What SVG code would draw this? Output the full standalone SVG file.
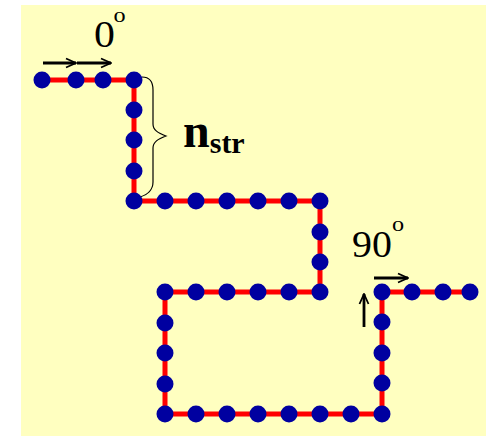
<svg xmlns="http://www.w3.org/2000/svg" width="486" height="436" viewBox="0 0 486 436">
<defs>
<style>
.bead{fill:#0000A0}
.chain{fill:none;stroke:#FF0000;stroke-width:5;stroke-linejoin:miter}
.arr{fill:none;stroke:#000;stroke-width:2.8}
.lbl{font-family:"Liberation Serif","Times New Roman",serif;fill:#000}
</style>
<marker id="ah" markerWidth="12" markerHeight="12" refX="11" refY="6" orient="auto" markerUnits="userSpaceOnUse">
<path d="M1,1.5 L11,6 L1,10.5" fill="none" stroke="#000" stroke-width="1.8"/>
</marker>
</defs>
<rect x="21" y="5" width="465" height="431" fill="#FFFFC0"/>
<g id="connectors">
<polyline class="chain" points="42,80 134,80 134,201 320,201 320,292 165,292 165,414 382,414 382,292 470,292"/>
<line class="arr" x1="43" y1="63" x2="76" y2="63" marker-end="url(#ah)"/>
<line class="arr" x1="77" y1="63" x2="111" y2="63" marker-end="url(#ah)"/>
<line class="arr" x1="374" y1="278" x2="408" y2="278" marker-end="url(#ah)"/>
<line class="arr" x1="364" y1="327" x2="364" y2="294" marker-end="url(#ah)"/>
<path d="M142,77 C150,77 153,82 153,90 L153,124 C153,130 158,133 166,136 C158,139 153,142 153,148 L153,182 C153,190 147,195 140,197" fill="none" stroke="#000" stroke-width="1.2"/>
</g>
<g id="b1"><circle class="bead" cx="42" cy="80" r="8.5"/></g>
<g id="b2"><circle class="bead" cx="76" cy="80" r="8.5"/></g>
<g id="b3"><circle class="bead" cx="103" cy="80" r="8.5"/></g>
<g id="b4"><circle class="bead" cx="134" cy="80" r="8.5"/></g>
<g id="b5"><circle class="bead" cx="134" cy="110" r="8.5"/></g>
<g id="b6"><circle class="bead" cx="134" cy="140" r="8.5"/></g>
<g id="b7"><circle class="bead" cx="134" cy="171" r="8.5"/></g>
<g id="b8"><circle class="bead" cx="134" cy="201" r="8.5"/></g>
<g id="b9"><circle class="bead" cx="165" cy="201" r="8.5"/></g>
<g id="b10"><circle class="bead" cx="196" cy="201" r="8.5"/></g>
<g id="b11"><circle class="bead" cx="227" cy="201" r="8.5"/></g>
<g id="b12"><circle class="bead" cx="258" cy="201" r="8.5"/></g>
<g id="b13"><circle class="bead" cx="289" cy="201" r="8.5"/></g>
<g id="b14"><circle class="bead" cx="320" cy="201" r="8.5"/></g>
<g id="b15"><circle class="bead" cx="320" cy="232" r="8.5"/></g>
<g id="b16"><circle class="bead" cx="320" cy="262" r="8.5"/></g>
<g id="b17"><circle class="bead" cx="320" cy="292" r="8.5"/></g>
<g id="b18"><circle class="bead" cx="289" cy="292" r="8.5"/></g>
<g id="b19"><circle class="bead" cx="258" cy="292" r="8.5"/></g>
<g id="b20"><circle class="bead" cx="227" cy="292" r="8.5"/></g>
<g id="b21"><circle class="bead" cx="196" cy="292" r="8.5"/></g>
<g id="b22"><circle class="bead" cx="165" cy="292" r="8.5"/></g>
<g id="b23"><circle class="bead" cx="165" cy="323" r="8.5"/></g>
<g id="b24"><circle class="bead" cx="165" cy="353" r="8.5"/></g>
<g id="b25"><circle class="bead" cx="165" cy="384" r="8.5"/></g>
<g id="b26"><circle class="bead" cx="165" cy="414" r="8.5"/></g>
<g id="b27"><circle class="bead" cx="196" cy="414" r="8.5"/></g>
<g id="b28"><circle class="bead" cx="227" cy="414" r="8.5"/></g>
<g id="b29"><circle class="bead" cx="258" cy="414" r="8.5"/></g>
<g id="b30"><circle class="bead" cx="289" cy="414" r="8.5"/></g>
<g id="b31"><circle class="bead" cx="320" cy="414" r="8.5"/></g>
<g id="b32"><circle class="bead" cx="351" cy="414" r="8.5"/></g>
<g id="b33"><circle class="bead" cx="382" cy="414" r="8.5"/></g>
<g id="b34"><circle class="bead" cx="382" cy="383" r="8.5"/></g>
<g id="b35"><circle class="bead" cx="382" cy="353" r="8.5"/></g>
<g id="b36"><circle class="bead" cx="382" cy="322" r="8.5"/></g>
<g id="b37"><circle class="bead" cx="382" cy="292" r="8.5"/></g>
<g id="b38"><circle class="bead" cx="412" cy="292" r="8.5"/></g>
<g id="b39"><circle class="bead" cx="443" cy="292" r="8.5"/></g>
<g id="b40"><circle class="bead" cx="470" cy="292" r="8.5"/></g>
<g id="label-0">
<text class="lbl" transform="translate(94,47) scale(1.1,1)" font-size="38">0</text>
<text class="lbl" transform="translate(113.5,21.5) scale(1.1,1)" font-size="22">o</text>
</g>
<g id="label-90">
<text class="lbl" transform="translate(352,257) scale(1.05,1)" font-size="38">90</text>
<text class="lbl" transform="translate(392,230.5) scale(1.1,1)" font-size="22">o</text>
</g>
<g id="label-nstr">
<text class="lbl" x="183" y="147" font-size="48" font-weight="bold">n<tspan font-size="30" dy="6">str</tspan></text>
</g>
</svg>
